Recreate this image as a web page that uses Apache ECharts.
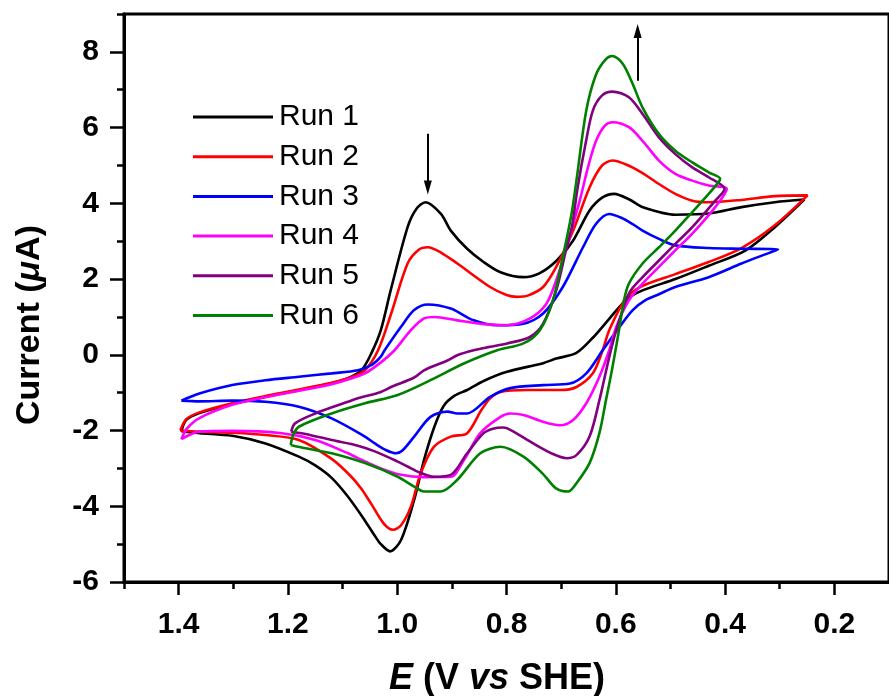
<!DOCTYPE html>
<html>
<head>
<meta charset="utf-8">
<script src="https://cdn.jsdelivr.net/npm/echarts@6/dist/echarts.min.js"></script>
<style>
html,body{margin:0;padding:0;background:#fff;}
#chart{width:889px;height:696px;}
</style>
</head>
<body>
<div id="chart"></div>
<script>
// Series data: [E (V vs SHE), current (uA)], each a closed CV loop
const runNames = ['Run 1','Run 2','Run 3','Run 4','Run 5','Run 6'];
const runColors = ['#000000','#ff0000','#0000ff','#ff00ff','#800080','#008000'];

const run1 = [[1.395,-2.02],[1.386,-1.72],[1.362,-1.54],[1.302,-1.30],[1.241,-1.11],[1.180,-0.93],[1.120,-0.75],[1.090,-0.62],[1.065,-0.40],[1.047,0.05],[1.030,0.65],[1.012,1.70],[0.981,3.37],[0.965,3.85],[0.948,4.03],[0.920,3.72],[0.902,3.28],[0.872,2.80],[0.842,2.45],[0.811,2.18],[0.769,2.05],[0.740,2.15],[0.708,2.49],[0.678,3.02],[0.648,3.81],[0.625,4.15],[0.603,4.25],[0.575,4.10],[0.551,3.90],[0.491,3.70],[0.430,3.73],[0.370,3.90],[0.309,4.03],[0.255,4.10],
  [0.309,3.37],[0.363,2.75],[0.430,2.35],[0.491,2.00],[0.551,1.70],[0.581,1.45],[0.612,0.95],[0.642,0.45],[0.672,0.05],[0.709,-0.10],[0.733,-0.22],[0.799,-0.45],[0.840,-0.68],[0.872,-0.93],[0.895,-1.08],[0.915,-1.35],[0.932,-1.90],[0.951,-2.78],[0.969,-3.83],[0.993,-4.89],[1.013,-5.19],[1.030,-5.00],[1.041,-4.78],[1.059,-4.38],[1.090,-3.75],[1.120,-3.25],[1.150,-2.92],[1.180,-2.69],[1.241,-2.34],[1.302,-2.14],[1.362,-2.07],[1.395,-2.02]];

const run2 = [[1.397,-2.00],[1.386,-1.70],[1.362,-1.52],[1.302,-1.28],[1.241,-1.09],[1.180,-0.92],[1.120,-0.74],[1.090,-0.62],[1.060,-0.42],[1.035,0.12],[1.011,1.09],[0.981,2.41],[0.960,2.78],[0.944,2.84],[0.920,2.70],[0.890,2.41],[0.830,1.79],[0.800,1.58],[0.781,1.53],[0.760,1.57],[0.733,1.79],[0.709,2.32],[0.678,3.28],[0.648,4.42],[0.625,5.00],[0.606,5.13],[0.580,5.02],[0.551,4.80],[0.521,4.51],[0.491,4.25],[0.460,4.07],[0.430,4.03],[0.370,4.09],[0.309,4.19],[0.249,4.21],
  [0.309,3.42],[0.370,2.82],[0.430,2.45],[0.491,2.13],[0.551,1.82],[0.581,1.50],[0.612,0.65],[0.624,0.12],[0.642,-0.49],[0.672,-0.85],[0.702,-0.93],[0.763,-0.93],[0.811,-0.98],[0.830,-1.15],[0.846,-1.46],[0.872,-2.07],[0.902,-2.16],[0.933,-2.43],[0.957,-3.13],[0.975,-4.01],[0.993,-4.50],[1.008,-4.62],[1.025,-4.45],[1.047,-3.95],[1.065,-3.55],[1.084,-3.22],[1.120,-2.75],[1.180,-2.25],[1.241,-2.12],[1.302,-2.06],[1.362,-2.03],[1.397,-2.00]];

const run3 = [[1.395,-1.21],[1.380,-1.12],[1.362,-1.02],[1.302,-0.80],[1.241,-0.67],[1.180,-0.58],[1.120,-0.49],[1.072,-0.41],[1.045,-0.25],[1.030,-0.05],[1.023,0.12],[0.993,0.74],[0.969,1.18],[0.944,1.33],[0.902,1.22],[0.860,0.91],[0.817,0.78],[0.769,0.82],[0.733,1.09],[0.697,1.79],[0.660,2.84],[0.636,3.46],[0.612,3.72],[0.590,3.62],[0.569,3.45],[0.551,3.28],[0.521,3.06],[0.491,2.89],[0.430,2.82],[0.370,2.80],[0.303,2.78],
  [0.340,2.58],[0.370,2.41],[0.430,2.05],[0.491,1.79],[0.521,1.60],[0.545,1.45],[0.569,1.18],[0.593,0.74],[0.624,0.12],[0.654,-0.49],[0.684,-0.76],[0.733,-0.80],[0.793,-0.88],[0.830,-1.11],[0.872,-1.55],[0.890,-1.55],[0.908,-1.50],[0.939,-1.64],[0.969,-2.16],[0.990,-2.52],[1.002,-2.60],[1.020,-2.52],[1.041,-2.34],[1.059,-2.16],[1.120,-1.68],[1.180,-1.37],[1.241,-1.24],[1.302,-1.21],[1.362,-1.23],[1.395,-1.21]];

const run4 = [[1.395,-2.23],[1.385,-1.95],[1.362,-1.67],[1.302,-1.32],[1.241,-1.12],[1.180,-0.95],[1.120,-0.78],[1.090,-0.65],[1.059,-0.49],[1.030,-0.20],[1.005,0.12],[0.975,0.65],[0.951,0.96],[0.932,1.00],[0.890,0.91],[0.842,0.81],[0.799,0.78],[0.757,0.96],[0.727,1.35],[0.709,1.97],[0.690,2.84],[0.666,4.07],[0.650,5.00],[0.636,5.65],[0.620,6.05],[0.606,6.14],[0.576,6.01],[0.551,5.65],[0.521,5.13],[0.491,4.78],[0.460,4.60],[0.430,4.47],[0.397,4.38],
  [0.418,3.90],[0.460,3.20],[0.491,2.76],[0.521,2.32],[0.551,1.88],[0.576,1.44],[0.599,0.74],[0.612,0.12],[0.630,-0.58],[0.654,-1.28],[0.678,-1.72],[0.702,-1.86],[0.733,-1.77],[0.769,-1.59],[0.793,-1.55],[0.811,-1.64],[0.848,-2.07],[0.878,-2.78],[0.902,-3.22],[0.951,-3.23],[0.993,-3.17],[1.030,-3.00],[1.072,-2.73],[1.090,-2.60],[1.150,-2.25],[1.211,-2.07],[1.302,-2.01],[1.362,-2.03],[1.395,-2.23]];

const run5 = [[1.194,-2.03],[1.187,-1.81],[1.150,-1.55],[1.090,-1.24],[1.072,-1.15],[1.030,-0.98],[1.011,-0.85],[0.969,-0.60],[0.951,-0.41],[0.908,-0.15],[0.890,-0.01],[0.860,0.12],[0.830,0.21],[0.799,0.30],[0.757,0.47],[0.733,0.82],[0.709,1.70],[0.690,2.84],[0.680,3.40],[0.670,4.40],[0.655,5.60],[0.642,6.45],[0.625,6.85],[0.606,6.95],[0.576,6.80],[0.551,6.36],[0.521,5.74],[0.491,5.30],[0.460,4.95],[0.430,4.69],[0.401,4.38],
  [0.418,4.07],[0.460,3.37],[0.491,2.93],[0.521,2.49],[0.551,2.05],[0.576,1.62],[0.599,0.65],[0.612,-0.06],[0.630,-1.20],[0.648,-2.16],[0.672,-2.65],[0.690,-2.73],[0.715,-2.62],[0.751,-2.34],[0.793,-1.98],[0.806,-1.92],[0.825,-1.95],[0.842,-2.07],[0.872,-2.60],[0.902,-3.17],[0.933,-3.22],[0.960,-3.10],[0.981,-2.95],[0.999,-2.82],[1.041,-2.55],[1.072,-2.40],[1.120,-2.25],[1.168,-2.09],[1.194,-2.03]];

const run6 = [[1.195,-2.38],[1.190,-2.10],[1.180,-1.90],[1.120,-1.55],[1.059,-1.28],[0.999,-1.06],[0.939,-0.67],[0.878,-0.23],[0.817,0.12],[0.769,0.30],[0.739,0.65],[0.715,1.44],[0.697,2.58],[0.681,3.72],[0.672,4.60],[0.654,6.45],[0.636,7.41],[0.618,7.81],[0.606,7.89],[0.587,7.68],[0.569,7.15],[0.551,6.53],[0.521,5.83],[0.491,5.39],[0.460,5.08],[0.430,4.82],[0.409,4.65],
  [0.412,4.56],[0.430,4.25],[0.460,3.77],[0.491,3.28],[0.521,2.84],[0.551,2.41],[0.576,1.88],[0.585,1.44],[0.593,0.74],[0.606,-0.32],[0.618,-1.20],[0.630,-2.07],[0.648,-2.86],[0.672,-3.39],[0.687,-3.61],[0.710,-3.52],[0.733,-3.15],[0.769,-2.69],[0.811,-2.43],[0.848,-2.60],[0.890,-3.30],[0.920,-3.61],[0.951,-3.61],[0.969,-3.48],[0.999,-3.22],[1.059,-2.86],[1.120,-2.60],[1.168,-2.47],[1.195,-2.38]];

const runs = [run1, run2, run3, run4, run5, run6];

// Axis ticks
const xMajorTicks = [0.2, 0.4, 0.6, 0.8, 1.0, 1.2, 1.4];
const xMinorTicks = [0.3, 0.5, 0.7, 0.9, 1.1, 1.3, 1.5];
const yMajorTicks = [-6, -4, -2, 0, 2, 4, 6, 8];
const yMinorTicks = [-5, -3, -1, 1, 3, 5, 7, 9];

// Trend arrows (data coordinates): [x, yStart, yEnd]
const arrowDown = [0.944, 5.84, 4.42];
const arrowUp = [0.56, 7.24, 8.55];

const FONT = 'Liberation Sans, Arial, sans-serif';
const chart = echarts.init(document.getElementById('chart'), null, {renderer: 'canvas'});

const series = runs.map((d, i) => ({
  name: runNames[i],
  type: 'line',
  data: d,
  xAxisIndex: 0,
  yAxisIndex: 0,
  symbol: 'none',
  smooth: 0.3,
  lineStyle: {color: runColors[i], width: 2.6},
  itemStyle: {color: runColors[i]},
  z: 2 + i
}));

series[0].markLine = {
  silent: true,
  symbol: ['none', 'triangle'],
  symbolSize: [8, 14],
  label: {show: false},
  lineStyle: {color: '#000', width: 2, type: 'solid'},
  data: [
    [{coord: [arrowDown[0], arrowDown[1]]}, {coord: [arrowDown[0], arrowDown[2]]}],
    [{coord: [arrowUp[0], arrowUp[1]]}, {coord: [arrowUp[0], arrowUp[2]]}]
  ]
};

const option = {
  animation: false,
  backgroundColor: '#fff',
  grid: {left: 124, top: 14, right: -6, bottom: 114, show: true, borderColor: '#000', borderWidth: 3, containLabel: false},
  xAxis: [
    {type: 'value', min: 0.1, max: 1.5, inverse: true, position: 'bottom',
     axisLine: {show: true, onZero: false, lineStyle: {color: '#000', width: 3}},
     axisTick: {show: true, inside: false, length: 13, customValues: xMajorTicks, lineStyle: {color: '#000', width: 2.5}},
     axisLabel: {show: true, customValues: xMajorTicks, margin: 28, color: '#000', fontSize: 30, fontWeight: 'bold', fontFamily: FONT,
                 formatter: v => v.toFixed(1)},
     splitLine: {show: false}},
    {type: 'value', min: 0.1, max: 1.5, inverse: true, position: 'bottom', gridIndex: 0,
     axisLine: {show: false, onZero: false},
     axisTick: {show: true, inside: false, length: 7, customValues: xMinorTicks, lineStyle: {color: '#000', width: 2.5}},
     axisLabel: {show: false},
     splitLine: {show: false}}
  ],
  yAxis: [
    {type: 'value', min: -6, max: 9, position: 'left',
     axisLine: {show: true, onZero: false, lineStyle: {color: '#000', width: 3}},
     axisTick: {show: true, inside: false, length: 14, customValues: yMajorTicks, lineStyle: {color: '#000', width: 2.5}},
     axisLabel: {show: true, customValues: yMajorTicks, margin: 25, color: '#000', fontSize: 30, fontWeight: 'bold', fontFamily: FONT},
     splitLine: {show: false}},
    {type: 'value', min: -6, max: 9, position: 'left', gridIndex: 0, offset: 0,
     axisLine: {show: false, onZero: false},
     axisTick: {show: true, inside: false, length: 7, customValues: yMinorTicks, lineStyle: {color: '#000', width: 2.5}},
     axisLabel: {show: false},
     splitLine: {show: false}}
  ],
  legend: {
    show: true, orient: 'vertical', left: 188, top: 97,
    itemWidth: 80, itemHeight: 3, itemGap: 9.7, icon: 'rect',
    data: runNames,
    textStyle: {color: '#000', fontSize: 30, fontFamily: FONT, lineHeight: 28, padding: [0, 0, 0, 1]}
  },
  graphic: [
    {type: 'text', x: 30, y: 325, rotation: Math.PI / 2,
     style: {text: 'Current ({i|μ}A)', fill: '#000', fontSize: 34, fontWeight: 'bold', fontFamily: FONT,
             align: 'center', verticalAlign: 'middle',
             rich: {i: {fontStyle: 'italic', fontWeight: 'bold', fontSize: 34, fontFamily: FONT, fill: '#000'}}}},
    {type: 'text', x: 497, y: 679,
     style: {text: '{i|E} (V {i|vs} SHE)', fill: '#000', fontSize: 36, fontWeight: 'bold', fontFamily: FONT,
             align: 'center', verticalAlign: 'middle',
             rich: {i: {fontStyle: 'italic', fontWeight: 'bold', fontSize: 36, fontFamily: FONT, fill: '#000'}}}}
  ],
  series: series
};
chart.setOption(option);
</script>
</body>
</html>
